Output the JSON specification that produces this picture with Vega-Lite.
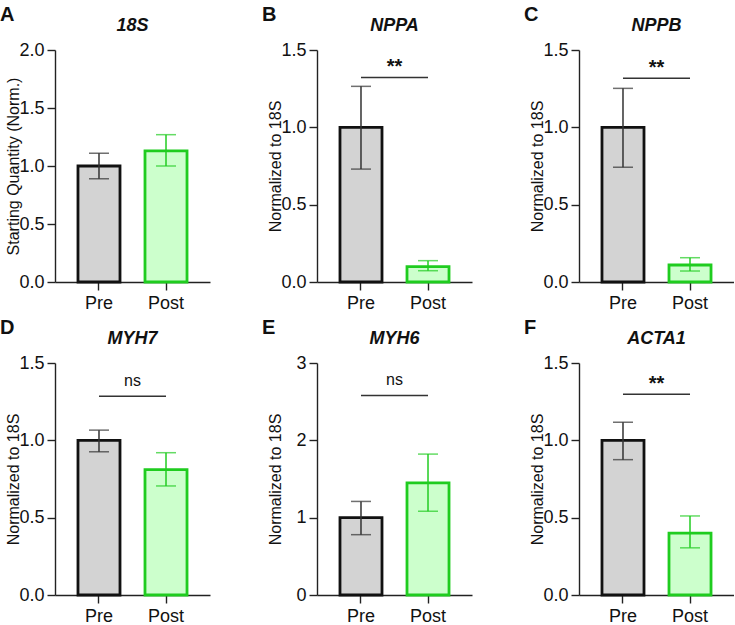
{
  "$schema": "https://vega.github.io/schema/vega-lite/v6.json",
  "padding": {"left": 0, "top": 5, "right": 0, "bottom": 0},
  "datasets": {
    "bars": [
      {"gene": "18S", "group": "Pre", "mean": 1.0, "lo": 0.89, "hi": 1.11},
      {"gene": "18S", "group": "Post", "mean": 1.13, "lo": 1.0, "hi": 1.27},
      {"gene": "NPPA", "group": "Pre", "mean": 1.0, "lo": 0.73, "hi": 1.265},
      {"gene": "NPPA", "group": "Post", "mean": 0.1, "lo": 0.073, "hi": 0.138},
      {"gene": "NPPB", "group": "Pre", "mean": 1.0, "lo": 0.742, "hi": 1.252},
      {"gene": "NPPB", "group": "Post", "mean": 0.11, "lo": 0.071, "hi": 0.157},
      {"gene": "MYH7", "group": "Pre", "mean": 1.0, "lo": 0.926, "hi": 1.066},
      {"gene": "MYH7", "group": "Post", "mean": 0.81, "lo": 0.705, "hi": 0.92},
      {"gene": "MYH6", "group": "Pre", "mean": 1.0, "lo": 0.78, "hi": 1.21},
      {"gene": "MYH6", "group": "Post", "mean": 1.45, "lo": 1.083, "hi": 1.822},
      {"gene": "ACTA1", "group": "Pre", "mean": 1.0, "lo": 0.875, "hi": 1.117},
      {"gene": "ACTA1", "group": "Post", "mean": 0.4, "lo": 0.305, "hi": 0.511}
    ],
    "sig": [
      {"gene": "NPPA", "y": 1.323, "label": "**"},
      {"gene": "NPPB", "y": 1.317, "label": "**"},
      {"gene": "MYH7", "y": 1.285, "label": "ns"},
      {"gene": "MYH6", "y": 2.58, "label": "ns"},
      {"gene": "ACTA1", "y": 1.298, "label": "**"}
    ]
  },
  "vconcat": [
    {
      "hconcat": [
        {
          "title": {"text": "A", "anchor": "start", "frame": "bounds", "fontSize": 20, "fontStyle": "normal", "offset": -8, "dx": -5},
          "vconcat": [
            {
              "width": 155, "height": 232,
              "title": {"text": "18S", "offset": 6},
              "data": {"name": "bars"},
              "transform": [{"filter": "datum.gene === '18S'"}],
              "encoding": {
                "x": {"field": "group", "type": "nominal", "sort": ["Pre", "Post"], "scale": {"domain": ["Pre", "Post"], "paddingInner": 0.373, "paddingOuter": 0.343}}
              },
              "layer": [
                {"mark": {"type": "bar", "strokeWidth": 2.8}, "encoding": {"y": {"field": "mean", "type": "quantitative", "scale": {"domain": [0, 2], "nice": false}, "axis": {"values": [0, 0.5, 1, 1.5, 2], "format": ".1f", "title": "Starting Quantity (Norm.)"}}, "fill": {"field": "group", "scale": {"domain": ["Pre", "Post"], "range": ["#d3d3d3", "#ccffcc"]}, "legend": null}, "stroke": {"field": "group", "scale": {"domain": ["Pre", "Post"], "range": ["#111111", "#1fcc1f"]}, "legend": null}}},
                {"mark": {"type": "rule", "strokeWidth": 1.5}, "encoding": {"y": {"field": "lo", "type": "quantitative"}, "y2": {"field": "hi"}, "color": {"field": "group", "scale": {"domain": ["Pre", "Post"], "range": ["#333333", "#22cc22"]}, "legend": null}}},
                {"mark": {"type": "tick", "size": 20, "thickness": 1.5}, "encoding": {"y": {"field": "lo", "type": "quantitative"}, "color": {"field": "group", "legend": null}}},
                {"mark": {"type": "tick", "size": 20, "thickness": 1.5}, "encoding": {"y": {"field": "hi", "type": "quantitative"}, "color": {"field": "group", "legend": null}}}
              ]
            }
          ]
        },
        {
          "title": {"text": "B", "anchor": "start", "frame": "bounds", "fontSize": 20, "fontStyle": "normal", "offset": -8, "dx": -5},
          "vconcat": [
            {
              "width": 155, "height": 232,
              "title": {"text": "NPPA", "offset": 6},
              "data": {"name": "bars"},
              "transform": [{"filter": "datum.gene === 'NPPA'"}],
              "encoding": {
                "x": {"field": "group", "type": "nominal", "sort": ["Pre", "Post"], "scale": {"domain": ["Pre", "Post"], "paddingInner": 0.373, "paddingOuter": 0.343}}
              },
              "layer": [
                {"mark": {"type": "bar", "strokeWidth": 2.8}, "encoding": {"y": {"field": "mean", "type": "quantitative", "scale": {"domain": [0, 1.5], "nice": false}, "axis": {"values": [0, 0.5, 1, 1.5], "format": ".1f", "title": "Normalized to 18S"}}, "fill": {"field": "group", "scale": {"domain": ["Pre", "Post"], "range": ["#d3d3d3", "#ccffcc"]}, "legend": null}, "stroke": {"field": "group", "scale": {"domain": ["Pre", "Post"], "range": ["#111111", "#1fcc1f"]}, "legend": null}}},
                {"mark": {"type": "rule", "strokeWidth": 1.5}, "encoding": {"y": {"field": "lo", "type": "quantitative"}, "y2": {"field": "hi"}, "color": {"field": "group", "scale": {"domain": ["Pre", "Post"], "range": ["#333333", "#22cc22"]}, "legend": null}}},
                {"mark": {"type": "tick", "size": 20, "thickness": 1.5}, "encoding": {"y": {"field": "lo", "type": "quantitative"}, "color": {"field": "group", "legend": null}}},
                {"mark": {"type": "tick", "size": 20, "thickness": 1.5}, "encoding": {"y": {"field": "hi", "type": "quantitative"}, "color": {"field": "group", "legend": null}}},
                {"data": {"name": "sig"}, "transform": [{"filter": "datum.gene === 'NPPA'"}], "mark": {"type": "rule", "strokeWidth": 1.5, "color": "#333333"}, "encoding": {"x": {"datum": "Pre"}, "x2": {"datum": "Post"}, "y": {"field": "y", "type": "quantitative"}}},
                {"data": {"name": "sig"}, "transform": [{"filter": "datum.gene === 'NPPA'"}], "mark": {"type": "text", "fontSize": 20, "fontWeight": "bold", "baseline": "bottom", "dy": 0, "color": "#111"}, "encoding": {"x": {"datum": "Pre", "bandPosition": 1.297}, "y": {"field": "y", "type": "quantitative"}, "text": {"field": "label"}}}
              ]
            }
          ]
        },
        {
          "title": {"text": "C", "anchor": "start", "frame": "bounds", "fontSize": 20, "fontStyle": "normal", "offset": -8, "dx": -5},
          "vconcat": [
            {
              "width": 155, "height": 232,
              "title": {"text": "NPPB", "offset": 6},
              "data": {"name": "bars"},
              "transform": [{"filter": "datum.gene === 'NPPB'"}],
              "encoding": {
                "x": {"field": "group", "type": "nominal", "sort": ["Pre", "Post"], "scale": {"domain": ["Pre", "Post"], "paddingInner": 0.373, "paddingOuter": 0.343}}
              },
              "layer": [
                {"mark": {"type": "bar", "strokeWidth": 2.8}, "encoding": {"y": {"field": "mean", "type": "quantitative", "scale": {"domain": [0, 1.5], "nice": false}, "axis": {"values": [0, 0.5, 1, 1.5], "format": ".1f", "title": "Normalized to 18S"}}, "fill": {"field": "group", "scale": {"domain": ["Pre", "Post"], "range": ["#d3d3d3", "#ccffcc"]}, "legend": null}, "stroke": {"field": "group", "scale": {"domain": ["Pre", "Post"], "range": ["#111111", "#1fcc1f"]}, "legend": null}}},
                {"mark": {"type": "rule", "strokeWidth": 1.5}, "encoding": {"y": {"field": "lo", "type": "quantitative"}, "y2": {"field": "hi"}, "color": {"field": "group", "scale": {"domain": ["Pre", "Post"], "range": ["#333333", "#22cc22"]}, "legend": null}}},
                {"mark": {"type": "tick", "size": 20, "thickness": 1.5}, "encoding": {"y": {"field": "lo", "type": "quantitative"}, "color": {"field": "group", "legend": null}}},
                {"mark": {"type": "tick", "size": 20, "thickness": 1.5}, "encoding": {"y": {"field": "hi", "type": "quantitative"}, "color": {"field": "group", "legend": null}}},
                {"data": {"name": "sig"}, "transform": [{"filter": "datum.gene === 'NPPB'"}], "mark": {"type": "rule", "strokeWidth": 1.5, "color": "#333333"}, "encoding": {"x": {"datum": "Pre"}, "x2": {"datum": "Post"}, "y": {"field": "y", "type": "quantitative"}}},
                {"data": {"name": "sig"}, "transform": [{"filter": "datum.gene === 'NPPB'"}], "mark": {"type": "text", "fontSize": 20, "fontWeight": "bold", "baseline": "bottom", "dy": 0, "color": "#111"}, "encoding": {"x": {"datum": "Pre", "bandPosition": 1.297}, "y": {"field": "y", "type": "quantitative"}, "text": {"field": "label"}}}
              ]
            }
          ]
        }
      ]
    },
    {
      "hconcat": [
        {
          "title": {"text": "D", "anchor": "start", "frame": "bounds", "fontSize": 20, "fontStyle": "normal", "offset": -8, "dx": -5},
          "vconcat": [
            {
              "width": 155, "height": 232,
              "title": {"text": "MYH7", "offset": 6},
              "data": {"name": "bars"},
              "transform": [{"filter": "datum.gene === 'MYH7'"}],
              "encoding": {
                "x": {"field": "group", "type": "nominal", "sort": ["Pre", "Post"], "scale": {"domain": ["Pre", "Post"], "paddingInner": 0.373, "paddingOuter": 0.343}}
              },
              "layer": [
                {"mark": {"type": "bar", "strokeWidth": 2.8}, "encoding": {"y": {"field": "mean", "type": "quantitative", "scale": {"domain": [0, 1.5], "nice": false}, "axis": {"values": [0, 0.5, 1, 1.5], "format": ".1f", "title": "Normalized to 18S"}}, "fill": {"field": "group", "scale": {"domain": ["Pre", "Post"], "range": ["#d3d3d3", "#ccffcc"]}, "legend": null}, "stroke": {"field": "group", "scale": {"domain": ["Pre", "Post"], "range": ["#111111", "#1fcc1f"]}, "legend": null}}},
                {"mark": {"type": "rule", "strokeWidth": 1.5}, "encoding": {"y": {"field": "lo", "type": "quantitative"}, "y2": {"field": "hi"}, "color": {"field": "group", "scale": {"domain": ["Pre", "Post"], "range": ["#333333", "#22cc22"]}, "legend": null}}},
                {"mark": {"type": "tick", "size": 20, "thickness": 1.5}, "encoding": {"y": {"field": "lo", "type": "quantitative"}, "color": {"field": "group", "legend": null}}},
                {"mark": {"type": "tick", "size": 20, "thickness": 1.5}, "encoding": {"y": {"field": "hi", "type": "quantitative"}, "color": {"field": "group", "legend": null}}},
                {"data": {"name": "sig"}, "transform": [{"filter": "datum.gene === 'MYH7'"}], "mark": {"type": "rule", "strokeWidth": 1.5, "color": "#333333"}, "encoding": {"x": {"datum": "Pre"}, "x2": {"datum": "Post"}, "y": {"field": "y", "type": "quantitative"}}},
                {"data": {"name": "sig"}, "transform": [{"filter": "datum.gene === 'MYH7'"}], "mark": {"type": "text", "fontSize": 16, "baseline": "bottom", "dy": -7, "color": "#111"}, "encoding": {"x": {"datum": "Pre", "bandPosition": 1.297}, "y": {"field": "y", "type": "quantitative"}, "text": {"field": "label"}}}
              ]
            }
          ]
        },
        {
          "title": {"text": "E", "anchor": "start", "frame": "bounds", "fontSize": 20, "fontStyle": "normal", "offset": -8, "dx": -5},
          "vconcat": [
            {
              "width": 155, "height": 232,
              "title": {"text": "MYH6", "offset": 6},
              "data": {"name": "bars"},
              "transform": [{"filter": "datum.gene === 'MYH6'"}],
              "encoding": {
                "x": {"field": "group", "type": "nominal", "sort": ["Pre", "Post"], "scale": {"domain": ["Pre", "Post"], "paddingInner": 0.373, "paddingOuter": 0.343}}
              },
              "layer": [
                {"mark": {"type": "bar", "strokeWidth": 2.8}, "encoding": {"y": {"field": "mean", "type": "quantitative", "scale": {"domain": [0, 3], "nice": false}, "axis": {"values": [0, 1, 2, 3], "format": "d", "title": "Normalized to 18S"}}, "fill": {"field": "group", "scale": {"domain": ["Pre", "Post"], "range": ["#d3d3d3", "#ccffcc"]}, "legend": null}, "stroke": {"field": "group", "scale": {"domain": ["Pre", "Post"], "range": ["#111111", "#1fcc1f"]}, "legend": null}}},
                {"mark": {"type": "rule", "strokeWidth": 1.5}, "encoding": {"y": {"field": "lo", "type": "quantitative"}, "y2": {"field": "hi"}, "color": {"field": "group", "scale": {"domain": ["Pre", "Post"], "range": ["#333333", "#22cc22"]}, "legend": null}}},
                {"mark": {"type": "tick", "size": 20, "thickness": 1.5}, "encoding": {"y": {"field": "lo", "type": "quantitative"}, "color": {"field": "group", "legend": null}}},
                {"mark": {"type": "tick", "size": 20, "thickness": 1.5}, "encoding": {"y": {"field": "hi", "type": "quantitative"}, "color": {"field": "group", "legend": null}}},
                {"data": {"name": "sig"}, "transform": [{"filter": "datum.gene === 'MYH6'"}], "mark": {"type": "rule", "strokeWidth": 1.5, "color": "#333333"}, "encoding": {"x": {"datum": "Pre"}, "x2": {"datum": "Post"}, "y": {"field": "y", "type": "quantitative"}}},
                {"data": {"name": "sig"}, "transform": [{"filter": "datum.gene === 'MYH6'"}], "mark": {"type": "text", "fontSize": 16, "baseline": "bottom", "dy": -7, "color": "#111"}, "encoding": {"x": {"datum": "Pre", "bandPosition": 1.297}, "y": {"field": "y", "type": "quantitative"}, "text": {"field": "label"}}}
              ]
            }
          ]
        },
        {
          "title": {"text": "F", "anchor": "start", "frame": "bounds", "fontSize": 20, "fontStyle": "normal", "offset": -8, "dx": -5},
          "vconcat": [
            {
              "width": 155, "height": 232,
              "title": {"text": "ACTA1", "offset": 6},
              "data": {"name": "bars"},
              "transform": [{"filter": "datum.gene === 'ACTA1'"}],
              "encoding": {
                "x": {"field": "group", "type": "nominal", "sort": ["Pre", "Post"], "scale": {"domain": ["Pre", "Post"], "paddingInner": 0.373, "paddingOuter": 0.343}}
              },
              "layer": [
                {"mark": {"type": "bar", "strokeWidth": 2.8}, "encoding": {"y": {"field": "mean", "type": "quantitative", "scale": {"domain": [0, 1.5], "nice": false}, "axis": {"values": [0, 0.5, 1, 1.5], "format": ".1f", "title": "Normalized to 18S"}}, "fill": {"field": "group", "scale": {"domain": ["Pre", "Post"], "range": ["#d3d3d3", "#ccffcc"]}, "legend": null}, "stroke": {"field": "group", "scale": {"domain": ["Pre", "Post"], "range": ["#111111", "#1fcc1f"]}, "legend": null}}},
                {"mark": {"type": "rule", "strokeWidth": 1.5}, "encoding": {"y": {"field": "lo", "type": "quantitative"}, "y2": {"field": "hi"}, "color": {"field": "group", "scale": {"domain": ["Pre", "Post"], "range": ["#333333", "#22cc22"]}, "legend": null}}},
                {"mark": {"type": "tick", "size": 20, "thickness": 1.5}, "encoding": {"y": {"field": "lo", "type": "quantitative"}, "color": {"field": "group", "legend": null}}},
                {"mark": {"type": "tick", "size": 20, "thickness": 1.5}, "encoding": {"y": {"field": "hi", "type": "quantitative"}, "color": {"field": "group", "legend": null}}},
                {"data": {"name": "sig"}, "transform": [{"filter": "datum.gene === 'ACTA1'"}], "mark": {"type": "rule", "strokeWidth": 1.5, "color": "#333333"}, "encoding": {"x": {"datum": "Pre"}, "x2": {"datum": "Post"}, "y": {"field": "y", "type": "quantitative"}}},
                {"data": {"name": "sig"}, "transform": [{"filter": "datum.gene === 'ACTA1'"}], "mark": {"type": "text", "fontSize": 20, "fontWeight": "bold", "baseline": "bottom", "dy": 0, "color": "#111"}, "encoding": {"x": {"datum": "Pre", "bandPosition": 1.297}, "y": {"field": "y", "type": "quantitative"}, "text": {"field": "label"}}}
              ]
            }
          ]
        }
      ]
    }
  ],
  "spacing": 6,
  "config": {
    "font": "Liberation Sans",
    "view": {"stroke": null},
    "concat": {"spacing": 52},
    "axis": {"domainColor": "#222", "domainWidth": 1.4, "tickColor": "#222", "tickWidth": 1.4, "tickSize": 8, "labelFontSize": 18, "labelColor": "#111", "titleFontSize": 16, "titleFontWeight": "normal", "titleColor": "#111", "grid": false, "labelPadding": 3, "labelFont": "Liberation Sans", "titleFont": "Liberation Sans"},
    "axisY": {"minExtent": 26, "maxExtent": 26, "titlePadding": 8},
    "axisX": {"labelAngle": 0, "title": null, "labelFontSize": 18, "labelPadding": 4},
    "title": {"fontSize": 18, "fontWeight": "bold", "fontStyle": "italic", "color": "#111", "font": "Liberation Sans"}
  }
}
